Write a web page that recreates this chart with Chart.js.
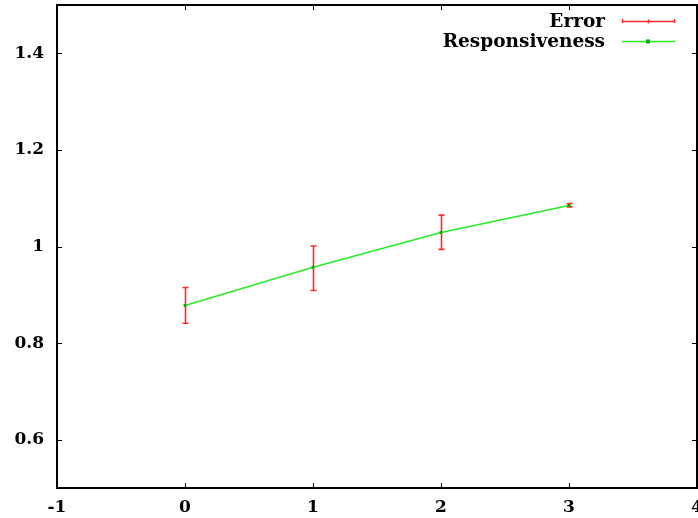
<!DOCTYPE html>
<html><head><meta charset="utf-8">
<script src="https://cdn.jsdelivr.net/npm/chart.js@4/dist/chart.umd.min.js"></script>
<style>html,body{margin:0;padding:0;background:#fff;overflow:hidden}#wrap{width:698px;height:518px;overflow:hidden}</style>
</head><body><div id="wrap"><canvas id="c" width="701" height="518"></canvas></div>
<script>
const xValues = [0, 1, 2, 3];
const responsiveness = [0.878, 0.957, 1.029, 1.085];
const errLow = [0.841, 0.909, 0.994, 1.082];
const errHigh = [0.915, 1.001, 1.065, 1.089];
const xTicks = [-1, 0, 1, 2, 3, 4];
const yTicks = [0.6, 0.8, 1, 1.2, 1.4];
const seriesLabels = ['Error', 'Responsiveness'];

const RED = 'rgb(255,40,40)';
const GREEN = 'rgb(40,235,40)';
const FONT = {family: '"DejaVu Serif", serif', weight: 'bold', size: 17};
const legendFont = 'bold 18.5px "DejaVu Serif", serif';

const framePlugin = {
  id: 'frame',
  afterDraw(chart) {
    const {ctx, chartArea: a, scales} = chart;
    ctx.save();
    ctx.strokeStyle = '#000';
    ctx.lineWidth = 1;
    const tl = 5;
    ctx.beginPath();
    xTicks.forEach(v => {
      const px = Math.round(scales.x.getPixelForValue(v)) + 0.5;
      ctx.moveTo(px, a.bottom); ctx.lineTo(px, a.bottom - tl);
      ctx.moveTo(px, a.top); ctx.lineTo(px, a.top + tl);
    });
    yTicks.forEach(v => {
      const py = Math.round(scales.y.getPixelForValue(v)) + 0.5;
      ctx.moveTo(a.left, py); ctx.lineTo(a.left + tl, py);
      ctx.moveTo(a.right, py); ctx.lineTo(a.right - tl, py);
    });
    ctx.stroke();
    ctx.lineWidth = 2;
    ctx.strokeRect(a.left, a.top, a.right - a.left, a.bottom - a.top);
    ctx.restore();
  }
};

const errorBarPlugin = {
  id: 'errbars',
  beforeDatasetsDraw(chart) {
    const {ctx, scales} = chart;
    ctx.save();
    ctx.strokeStyle = RED;
    ctx.lineWidth = 1.6;
    ctx.beginPath();
    xValues.forEach((xv, i) => {
      const px = Math.round(scales.x.getPixelForValue(xv)) + 0.5;
      const yl = scales.y.getPixelForValue(errLow[i]);
      const yh = scales.y.getPixelForValue(errHigh[i]);
      ctx.moveTo(px, yl); ctx.lineTo(px, yh);
      ctx.moveTo(px - 3, yl); ctx.lineTo(px + 3, yl);
      ctx.moveTo(px - 3, yh); ctx.lineTo(px + 3, yh);
    });
    ctx.stroke();
    ctx.restore();
  }
};

const legendPlugin = {
  id: 'gpLegend',
  afterDraw(chart) {
    const {ctx} = chart;
    ctx.save();
    ctx.font = legendFont;
    ctx.fillStyle = '#000';
    ctx.textAlign = 'right';
    ctx.textBaseline = 'middle';
    const ys = [21, 41];
    const x0 = 622, x1 = 675;
    seriesLabels.forEach((lab, i) => {
      ctx.fillText(lab, 605, ys[i] + 1);
    });
    ctx.strokeStyle = RED; ctx.lineWidth = 1.5;
    ctx.beginPath();
    ctx.moveTo(x0, ys[0] + 0.5); ctx.lineTo(x1, ys[0] + 0.5);
    ctx.moveTo(x0 + 0.5, ys[0] - 2); ctx.lineTo(x0 + 0.5, ys[0] + 2);
    ctx.moveTo(x1 - 0.5, ys[0] - 2); ctx.lineTo(x1 - 0.5, ys[0] + 2);
    ctx.moveTo(648.5, ys[0] - 1.5); ctx.lineTo(648.5, ys[0] + 2.5);
    ctx.stroke();
    ctx.strokeStyle = GREEN;
    ctx.beginPath();
    ctx.moveTo(x0, ys[1] + 0.5); ctx.lineTo(x1, ys[1] + 0.5);
    ctx.stroke();
    ctx.fillStyle = 'rgb(0,170,0)';
    ctx.fillRect(646, ys[1] - 1.5, 4, 4);
    ctx.restore();
  }
};

new Chart(document.getElementById('c'), {
  type: 'scatter',
  data: {
    datasets: [
      {
        label: seriesLabels[0],
        data: xValues.map((x, i) => ({x, y: responsiveness[i]})),
        showLine: false,
        pointRadius: 0,
        borderColor: RED,
        backgroundColor: RED
      },
      {
        label: seriesLabels[1],
        data: xValues.map((x, i) => ({x, y: responsiveness[i]})),
        showLine: true,
        borderColor: GREEN,
        borderWidth: 1.5,
        pointStyle: 'rect',
        pointRadius: 2,
        pointBackgroundColor: 'rgb(0,170,0)',
        pointBorderWidth: 0,
        tension: 0
      }
    ]
  },
  options: {
    responsive: false,
    animation: false,
    devicePixelRatio: 1,
    layout: {padding: {top: 5, right: 1, left: 0, bottom: 0}},
    plugins: {legend: {display: false}, tooltip: {enabled: false}},
    scales: {
      x: {
        type: 'linear', min: -1, max: 4,
        afterBuildTicks(s) { s.ticks = xTicks.map(v => ({value: v})); },
        afterFit(s) { s.height = 30; s.paddingLeft = 0; s.paddingRight = 0; },
        grid: {display: false, drawTicks: false},
        border: {display: false},
        ticks: {font: FONT, color: '#000', padding: 9, maxRotation: 0, autoSkip: false,
                callback: v => String(v)}
      },
      y: {
        type: 'linear', min: 0.5, max: 1.5,
        afterBuildTicks(s) { s.ticks = yTicks.map(v => ({value: v})); },
        afterFit(s) { s.width = 57; s.paddingTop = 0; s.paddingBottom = 0; },
        grid: {display: false, drawTicks: false},
        border: {display: false},
        ticks: {font: FONT, color: '#000', padding: 13, autoSkip: false,
                callback: v => String(v)}
      }
    }
  },
  plugins: [errorBarPlugin, framePlugin, legendPlugin]
});
</script>
</body></html>
